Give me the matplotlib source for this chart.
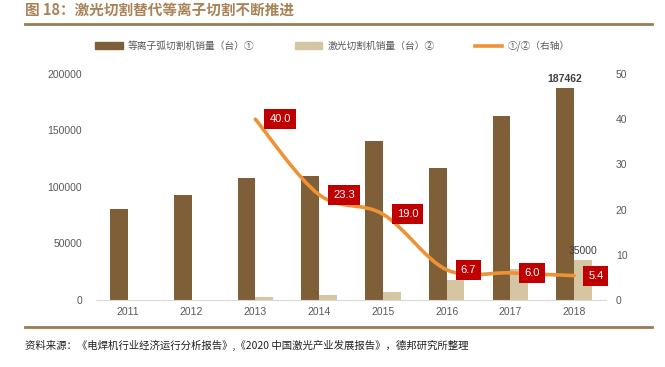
import numpy as np
import matplotlib
matplotlib.use('Agg')
import matplotlib.pyplot as plt
import matplotlib.patches as mpatches
from matplotlib.path import Path
from matplotlib.lines import Line2D

years = ['2011', '2012', '2013', '2014', '2015', '2016', '2017', '2018']
plasma = [80500, 93000, 108000, 110000, 140500, 116500, 162500, 187462]
laser = [0, 0, 2700, 4700, 7400, 17500, 27000, 35000]
ratio_years = [2, 3, 4, 5, 6, 7]  # index of 2013..2018
ratio = [40.0, 23.3, 19.0, 6.7, 6.0, 5.4]

cn = ['Noto Sans CJK SC', 'DejaVu Sans']
num = ['Liberation Sans', 'Noto Sans CJK SC']
c_plasma = '#7F5F37'
c_laser = '#D5C6A3'
c_line = '#EE9236'
c_red = '#C00000'
c_tick = '#595959'

fig = plt.figure(figsize=(6.65, 3.67), dpi=100)
ax = fig.add_axes([96 / 665, 1 - 300 / 367, 510 / 665, 226 / 367])
ax2 = ax.twinx()

x = np.arange(len(years))
w = 0.28
ax.bar(x - w / 2, plasma, w, color=c_plasma, zorder=2)
ax.bar(x + w / 2, laser, w, color=c_laser, zorder=2)
ax.set_xlim(-0.5, len(years) - 0.5)
ax.set_ylim(0, 200000)
ax.set_yticks(range(0, 200001, 50000))
ax.set_xticks(x)
ax.set_xticklabels(years)
for s in ['top', 'right', 'left']:
    ax.spines[s].set_visible(False)
    ax2.spines[s].set_visible(False)
ax2.spines['bottom'].set_visible(False)
ax.spines['bottom'].set_color('#D9D9D9')
ax.tick_params(axis='both', length=0, colors=c_tick, labelsize=7.5)
ax.tick_params(axis='y', pad=10)
ax.tick_params(axis='x', pad=5)
for lab in ax.get_xticklabels() + ax.get_yticklabels():
    lab.set_family(num)

ax2.set_ylim(0, 50)
ax2.set_yticks(range(0, 51, 10))
ax2.tick_params(axis='y', length=0, colors=c_tick, labelsize=7.5, pad=7)
for lab in ax2.get_yticklabels():
    lab.set_family(num)

# smooth line (Catmull-Rom drawn as Bezier curves through the data points)
px = np.array(ratio_years, dtype=float)
py = np.array(ratio, dtype=float)
pts = np.column_stack([px, py])
verts = [pts[0]]
codes = [Path.MOVETO]
for i in range(len(pts) - 1):
    p0 = pts[i - 1] if i > 0 else pts[i]
    p1 = pts[i]
    p2 = pts[i + 1]
    p3 = pts[i + 2] if i + 2 < len(pts) else pts[i + 1]
    c1 = p1 + (p2 - p0) / 6
    c2 = p2 - (p3 - p1) / 6
    verts += [c1, c2, p2]
    codes += [Path.CURVE4] * 3
ax2.add_patch(mpatches.PathPatch(Path(verts, codes), fill=False, edgecolor=c_line,
                                 lw=2.6, capstyle='round', zorder=3))

for xi, yi in zip(ratio_years, ratio):
    ax2.annotate('%.1f' % yi, (xi, yi), xytext=(14, 0), textcoords='offset pixels',
                 ha='left', va='center', color='white', fontsize=8, family=num,
                 bbox=dict(boxstyle='square,pad=0.45', fc=c_red, ec='none'), zorder=5)

ax.annotate('187462', (x[-1] - w / 2, plasma[-1]), xytext=(0, 4), textcoords='offset pixels',
            ha='center', va='bottom', fontsize=7.5, fontweight='bold', color='#404040', family=num)
ax.annotate('35000', (x[-1] + w / 2, laser[-1]), xytext=(0, 4), textcoords='offset pixels',
            ha='center', va='bottom', fontsize=7.5, color='#404040', family=num)

# title, rules, legend, source
fig.text(25 / 665, 1 - 10 / 367, '图 18：激光切割替代等离子切割不断推进', family=cn,
         fontsize=10.5, fontweight='bold', color='#A98257', va='center', ha='left')
fig.add_artist(Line2D([25 / 665, 652 / 665], [1 - 24 / 367, 1 - 24 / 367],
                      color='#9C7B57', lw=2))
fig.add_artist(Line2D([25 / 665, 652 / 665], [1 - 327 / 367, 1 - 327 / 367],
                      color='#9C7B57', lw=2))
fig.text(25 / 665, 1 - 345 / 367, '资料来源：《电焊机行业经济运行分析报告》,《2020 中国激光产业发展报告》，德邦研究所整理',
         family=cn, fontsize=7.5, color='#222222', va='center', ha='left')

handles = [mpatches.Patch(color=c_plasma), mpatches.Patch(color=c_laser),
           Line2D([0], [0], color=c_line, lw=2.6)]
labels = ['等离子弧切割机销量（台）①', '激光切割机销量（台）②', '①/②（右轴）']
fig.legend(handles, labels, loc='center', bbox_to_anchor=(0.5, 1 - 46 / 367), ncol=3,
           frameon=False, prop={'family': cn, 'size': 7}, labelcolor=c_tick,
           handlelength=2.8, handleheight=0.7, columnspacing=4.2, handletextpad=0.5)

fig.savefig('out.png', dpi=100)
